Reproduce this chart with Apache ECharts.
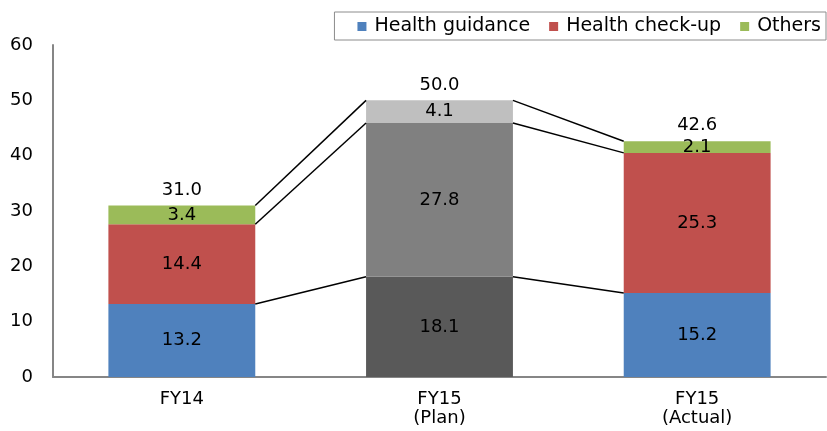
<!DOCTYPE html>
<html><head><meta charset="utf-8">
<script src="https://cdn.jsdelivr.net/npm/echarts@6/dist/echarts.min.js"></script>
<style>html,body{margin:0;padding:0;background:#fff}#c{width:827px;height:431px}</style>
</head><body><div id="c"></div>
<script>
const categories = ['FY14', 'FY15\n(Plan)', 'FY15\n(Actual)'];
const healthGuidance = [13.2, 18.1, 15.2];
const healthCheckup = [14.4, 27.8, 25.3];
const others = [3.4, 4.1, 2.1];
const yTicks = [0, 10, 20, 30, 40, 50, 60];

const seriesNames = ['Health guidance', 'Health check-up', 'Others'];
const colors = ['#4f81bd', '#c0504d', '#9bbb59'];
const planColors = ['#595959', '#808080', '#bfbfbf'];
const planIndex = 1;
const barRatio = 0.57;
const FONT = 'DejaVu Sans';
const FS = 18;

const seriesValues = [healthGuidance, healthCheckup, others];
const totals = categories.map((_, i) => +(healthGuidance[i] + healthCheckup[i] + others[i]).toFixed(1));
const cum = categories.map((_, i) => {
  let s = 0;
  return seriesValues.map(arr => (s = +(s + arr[i]).toFixed(1)));
});
const connectors = [];
for (let i = 0; i < categories.length - 1; i++) {
  for (let l = 0; l < 3; l++) connectors.push([i, cum[i][l], i + 1, cum[i + 1][l]]);
}

const chart = echarts.init(document.getElementById('c'), null, {renderer: 'canvas'});
const barSeries = seriesNames.map((name, s) => ({
  name, type: 'bar', stack: 'total', barWidth: (barRatio * 100) + '%',
  itemStyle: {color: colors[s]},
  data: seriesValues[s].map((v, i) => ({
    value: v,
    itemStyle: i === planIndex ? {color: planColors[s]} : {color: colors[s]}
  })),
  label: {show: true, position: 'inside', color: '#000', fontFamily: FONT, fontSize: FS,
    formatter: p => p.value.toFixed(1)},
  emphasis: {disabled: true}
}));

chart.setOption({
  animation: false,
  textStyle: {fontFamily: FONT},
  legend: {
    data: seriesNames, right: 1, top: 12, orient: 'horizontal',
    borderColor: '#8c8c8c', borderWidth: 1, padding: [5, 5, 4, 23],
    itemWidth: 9, itemHeight: 9, itemGap: 19, icon: 'rect',
    textStyle: {fontFamily: FONT, fontSize: 19, color: '#000', padding: [0, 0, 0, 3]}
  },
  grid: {left: 53, right: 1, top: 45, bottom: 54, containLabel: false},
  xAxis: {
    type: 'category', data: categories,
    axisLine: {lineStyle: {color: '#868686', width: 2}},
    axisTick: {show: false},
    axisLabel: {color: '#000', fontFamily: FONT, fontSize: FS, margin: 13, lineHeight: 19}
  },
  yAxis: {
    type: 'value', min: yTicks[0], max: yTicks[yTicks.length - 1], interval: 10,
    axisLine: {show: true, lineStyle: {color: '#868686', width: 2}},
    axisTick: {show: false},
    splitLine: {show: false},
    axisLabel: {color: '#000', fontFamily: FONT, fontSize: FS, margin: 20}
  },
  series: [
    ...barSeries,
    {
      type: 'scatter', symbolSize: 1, silent: true,
      itemStyle: {color: 'rgba(0,0,0,0)', opacity: 1},
      data: totals.map((t, i) => [i, t]),
      label: {show: true, position: 'top', distance: 6, color: '#000', fontFamily: FONT, fontSize: FS,
        formatter: p => p.value[1].toFixed(1)}
    },
    {
      type: 'custom', silent: true, z: 5,
      encode: {x: [0, 2], y: [1, 3]},
      data: connectors,
      renderItem: (params, api) => {
        const p1 = api.coord([api.value(0), api.value(1)]);
        const p2 = api.coord([api.value(2), api.value(3)]);
        const half = api.size([1, 0])[0] * barRatio / 2;
        return {
          type: 'line',
          shape: {x1: p1[0] + half, y1: p1[1], x2: p2[0] - half, y2: p2[1]},
          style: {stroke: '#000', lineWidth: 1.5}
        };
      }
    }
  ]
});
</script></body></html>
